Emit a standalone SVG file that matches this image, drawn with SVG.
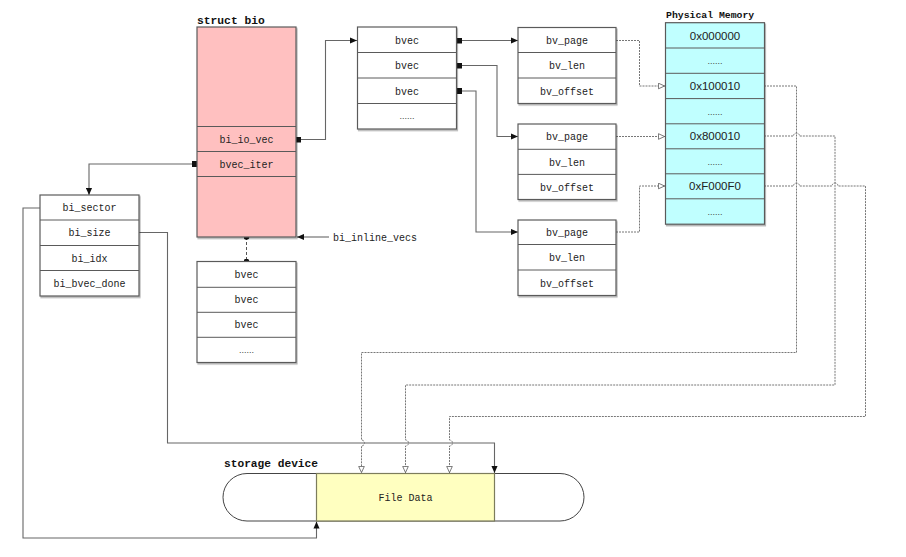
<svg xmlns="http://www.w3.org/2000/svg" width="906" height="557" viewBox="0 0 906 557">
<style>
.box{stroke:#5a5a5a;stroke-width:1.2}
.row{stroke:#5a5a5a;stroke-width:1}
.t{font-family:"Liberation Mono","Courier New",monospace;font-size:10px;fill:#222;text-anchor:middle}
.a{font-family:"Liberation Sans",Arial,sans-serif;font-size:11.5px;fill:#222;text-anchor:middle}
.lbl{font-family:"Liberation Mono","Courier New",monospace;font-weight:bold;fill:#111}
.c{fill:none;stroke:#666;stroke-width:1.1}
.d{fill:none;stroke:#777;stroke-width:1;stroke-dasharray:2 1}
.dots{font-family:"Liberation Sans",Arial,sans-serif;font-size:9px;fill:#444;text-anchor:middle}
</style>
<defs>
<filter id="sh" x="-5%" y="-5%" width="115%" height="115%"><feDropShadow dx="1" dy="1.5" stdDeviation="0.6" flood-color="#000" flood-opacity="0.3"/></filter>
<marker id="ar" viewBox="0 0 8 8" refX="8" refY="4" markerWidth="7" markerHeight="7" markerUnits="userSpaceOnUse" orient="auto"><path d="M0,0.5 L8,4 L0,7.5 z" fill="#111"/></marker>
<marker id="ao" viewBox="0 0 8 8" refX="8" refY="4" markerWidth="7" markerHeight="7" markerUnits="userSpaceOnUse" orient="auto"><path d="M0.5,0.8 L7.5,4 L0.5,7.2 z" fill="#fff" stroke="#555" stroke-width="0.9"/></marker>
<marker id="sq" viewBox="0 0 6 6" refX="3" refY="3" markerWidth="6" markerHeight="6" markerUnits="userSpaceOnUse"><rect width="6" height="6" fill="#111"/></marker>
<marker id="dot" viewBox="0 0 6 6" refX="3" refY="3" markerWidth="6" markerHeight="6" markerUnits="userSpaceOnUse"><circle cx="3" cy="3" r="2.8" fill="#111"/></marker>
</defs>
<rect width="906" height="557" fill="#fff"/>

<g id="connectors">
<path class="c" d="M298,139.5 H325.5 V40.5 H357" marker-start="url(#sq)" marker-end="url(#ar)"/>
<path class="c" d="M459,40.5 H518" marker-start="url(#sq)" marker-end="url(#ar)"/>
<path class="c" d="M459,65.5 H497 V136.5 H518" marker-start="url(#sq)" marker-end="url(#ar)"/>
<path class="c" d="M459,91 H476 V232 H518" marker-start="url(#sq)" marker-end="url(#ar)"/>
<path class="c" d="M195,164 H89 V195" marker-start="url(#sq)" marker-end="url(#ar)"/>
<path class="c" d="M329,237 H297" marker-end="url(#ar)"/>
<path fill="none" stroke="#555" stroke-width="1" stroke-dasharray="3 2" d="M246.5,237 V261.5" marker-start="url(#dot)" marker-end="url(#dot)"/>
<path class="d" d="M616,40.5 H639.5 V86 H665" marker-end="url(#ao)"/>
<path class="d" d="M616,136.5 H665" marker-end="url(#ao)"/>
<path class="d" d="M616,232 H639.5 V186 H665" marker-end="url(#ao)"/>
<path class="c" d="M139,232.5 H167.5 V443 H494.5 V473" marker-end="url(#ar)"/>
<path class="c" d="M40,208 H23 V538 H316.5 V521.5" marker-end="url(#ar)"/>
<path class="d" d="M764,86 H796.5 V352.5 H361.5 V440 a3,3 0 0 1 0,6 V473" marker-end="url(#ao)"/>
<path class="d" d="M764,136 H793.5 a3,3 0 0 1 6,0 H835 V385 H405.5 V440 a3,3 0 0 1 0,6 V473" marker-end="url(#ao)"/>
<path class="d" d="M764,186 H793.5 a3,3 0 0 1 6,0 H832 a3,3 0 0 1 6,0 H865.5 V416.5 H449.5 V440 a3,3 0 0 1 0,6 V473" marker-end="url(#ao)"/>
</g>

<g id="struct-bio">
<text class="lbl" x="197" y="23.5" font-size="11.3">struct bio</text>
<rect class="box" x="197" y="27" width="99" height="210" fill="#FFC0C0" filter="url(#sh)"/>
<path class="row" d="M197,126.5 H296 M197,151.5 H296 M197,176.5 H296"/>
<text class="t" x="246.5" y="142.5">bi_io_vec</text>
<text class="t" x="246.5" y="167.5">bvec_iter</text>
</g>

<g id="bvec-array">
<rect class="box" x="357.5" y="27" width="99" height="102" fill="#fff" filter="url(#sh)"/>
<path class="row" d="M357.5,52.5 H456.5 M357.5,78 H456.5 M357.5,103.5 H456.5"/>
<text class="t" x="407" y="43.5">bvec</text>
<text class="t" x="407" y="69">bvec</text>
<text class="t" x="407" y="94.5">bvec</text>
<text class="dots" x="407" y="119">......</text>
</g>

<g id="bio-vec-1">
<rect class="box" x="518" y="27.5" width="98" height="76" fill="#fff" filter="url(#sh)"/>
<path class="row" d="M518,52.5 H616 M518,78 H616"/>
<text class="t" x="567" y="44">bv_page</text>
<text class="t" x="567" y="69">bv_len</text>
<text class="t" x="567" y="94.5">bv_offset</text>
</g>

<g id="bio-vec-2">
<rect class="box" x="518" y="124" width="98" height="75.5" fill="#fff" filter="url(#sh)"/>
<path class="row" d="M518,149.3 H616 M518,174.4 H616"/>
<text class="t" x="567" y="140">bv_page</text>
<text class="t" x="567" y="165.5">bv_len</text>
<text class="t" x="567" y="190.5">bv_offset</text>
</g>

<g id="bio-vec-3">
<rect class="box" x="518" y="220" width="98" height="75.5" fill="#fff" filter="url(#sh)"/>
<path class="row" d="M518,244.5 H616 M518,270 H616"/>
<text class="t" x="567" y="236">bv_page</text>
<text class="t" x="567" y="261">bv_len</text>
<text class="t" x="567" y="286.5">bv_offset</text>
</g>

<g id="physical-memory">
<text class="lbl" x="666" y="18" font-size="9.8">Physical Memory</text>
<rect class="box" x="665.5" y="22.7" width="99" height="201.5" fill="#C0FFFF" filter="url(#sh)"/>
<path class="row" d="M665.5,48 H764.5 M665.5,73.3 H764.5 M665.5,98.6 H764.5 M665.5,123.8 H764.5 M665.5,148.8 H764.5 M665.5,173.8 H764.5 M665.5,198.8 H764.5"/>
<text class="a" x="715" y="40">0x000000</text>
<text class="dots" x="715" y="64">......</text>
<text class="a" x="715" y="90">0x100010</text>
<text class="dots" x="715" y="114.5">......</text>
<text class="a" x="715" y="140">0x800010</text>
<text class="dots" x="715" y="164.5">......</text>
<text class="a" x="715" y="190">0xF000F0</text>
<text class="dots" x="715" y="215">......</text>
</g>

<g id="bvec-iter">
<rect class="box" x="40" y="195" width="99" height="101" fill="#fff" filter="url(#sh)"/>
<path class="row" d="M40,220 H139 M40,245.5 H139 M40,270.5 H139"/>
<text class="t" x="89.5" y="211">bi_sector</text>
<text class="t" x="89.5" y="236">bi_size</text>
<text class="t" x="89.5" y="261.5">bi_idx</text>
<text class="t" x="89.5" y="286.5">bi_bvec_done</text>
</g>

<g id="inline-vecs">
<rect class="box" x="197" y="261.5" width="99" height="101" fill="#fff" filter="url(#sh)"/>
<path class="row" d="M197,287.3 H296 M197,312.3 H296 M197,337.3 H296"/>
<text class="t" x="246.5" y="278">bvec</text>
<text class="t" x="246.5" y="303">bvec</text>
<text class="t" x="246.5" y="328">bvec</text>
<text class="dots" x="246.5" y="353">......</text>
</g>

<g id="bi-inline-vecs-label">
<text class="t" x="333" y="241" text-anchor="start" style="text-anchor:start">bi_inline_vecs</text>
</g>

<g id="storage-device">
<text class="lbl" x="224" y="467" font-size="11.2">storage device</text>
<rect x="223" y="473.5" width="361" height="47.5" rx="24" ry="23.7" fill="#fff" stroke="#444" stroke-width="1"/>
<rect x="316.5" y="473.5" width="178" height="47.5" fill="#FFFFC0" stroke="#7c7c5c" stroke-width="1.2"/>
<text class="t" x="405.5" y="500.5">File Data</text>
</g>
</svg>
